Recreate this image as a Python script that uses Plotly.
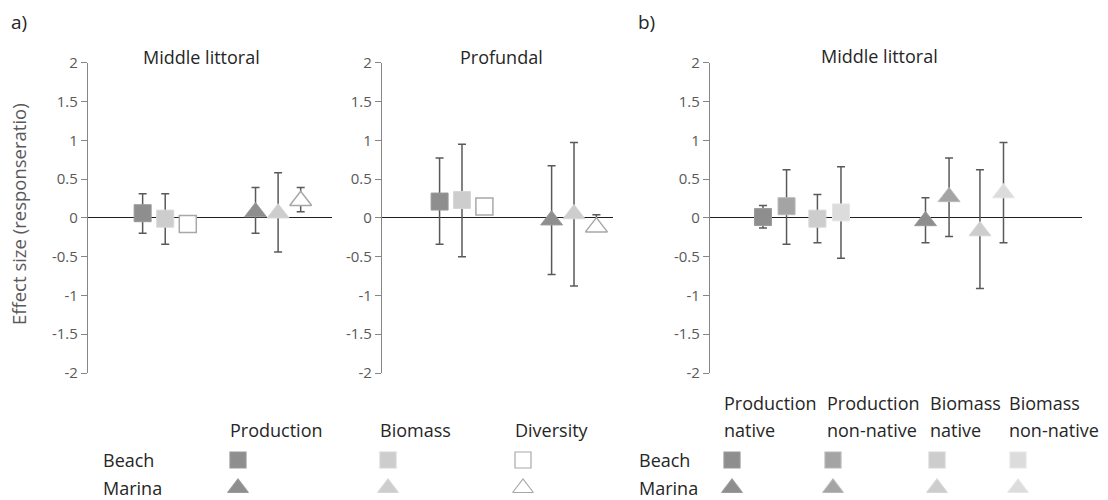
import plotly.graph_objects as go

W, H = 1108, 500

# ---------------- data ----------------
groups = ["Beach", "Marina"]
group_pos = [1, 2]
ytick_vals = [-2, -1.5, -1, -0.5, 0, 0.5, 1, 1.5, 2]
ytick_text = ["-2", "-1.5", "-1", "-0.5", "0", "0.5", "1", "1.5", "2"]

# a) Middle littoral
a_ml_production = [0.06, 0.075]
a_ml_production_hi = [0.31, 0.39]
a_ml_production_lo = [-0.20, -0.20]
a_ml_biomass = [-0.01, 0.06]
a_ml_biomass_hi = [0.31, 0.58]
a_ml_biomass_lo = [-0.34, -0.44]
a_ml_diversity = [-0.08, 0.22]
a_ml_diversity_hi = [-0.08, 0.39]
a_ml_diversity_lo = [-0.08, 0.08]

# a) Profundal
a_pr_production = [0.21, -0.03]
a_pr_production_hi = [0.77, 0.67]
a_pr_production_lo = [-0.34, -0.73]
a_pr_biomass = [0.23, 0.05]
a_pr_biomass_hi = [0.95, 0.97]
a_pr_biomass_lo = [-0.50, -0.88]
a_pr_diversity = [0.145, -0.12]
a_pr_diversity_hi = [0.145, 0.04]
a_pr_diversity_lo = [0.145, -0.12]

# b) Middle littoral
b_prod_native = [0.01, -0.04]
b_prod_native_hi = [0.16, 0.26]
b_prod_native_lo = [-0.13, -0.32]
b_prod_nonnative = [0.15, 0.27]
b_prod_nonnative_hi = [0.62, 0.77]
b_prod_nonnative_lo = [-0.34, -0.24]
b_bio_native = [-0.01, -0.17]
b_bio_native_hi = [0.30, 0.62]
b_bio_native_lo = [-0.32, -0.91]
b_bio_nonnative = [0.07, 0.32]
b_bio_nonnative_hi = [0.66, 0.97]
b_bio_nonnative_lo = [-0.52, -0.32]

a_series = ["Production", "Biomass", "Diversity"]
b_series_l1 = ["Production", "Production", "Biomass", "Biomass"]
b_series_l2 = ["native", "non-native", "native", "non-native"]

# ---------------- styles ----------------
FONT = "Open Sans"
DARK = "#8e8e8e"
LIGHT = "#cdcdcd"
DARK_CHK = "#a4a4a4"
LIGHT_CHK = "#dcdcdc"
OPEN_LINE = "#a8a8a8"
ERR = "#595959"
AXIS = "#868686"
TICK = "#595959"
TXT = "#262626"

SYMBOLS = ["square", "triangle-up"]
SIZES = [17, 19]

def px_x(p):
    return p / W

def px_y(p):
    return 1 - p / H

fig = go.Figure()

# base axis -> overlay axis that carries the markers (drawn above the error bars)
OVER = {"": "5", "2": "6", "3": "7"}

def add_series(ax, offset, val, hi, lo, fill, line, lw=1):
    xs = [g + offset for g in group_pos]
    plus = [h - v for h, v in zip(hi, val)]
    minus = [v - l for v, l in zip(val, lo)]
    fig.add_trace(go.Scatter(
        x=xs, y=val, mode="markers", xaxis="x" + ax, yaxis="y" + ax,
        marker=dict(size=1, color="rgba(0,0,0,0)"),
        error_y=dict(type="data", symmetric=False, array=plus, arrayminus=minus,
                     color=ERR, thickness=1.5, width=4),
        showlegend=False, hoverinfo="skip"))
    o = OVER[ax]
    fig.add_trace(go.Scatter(
        x=xs, y=val, mode="markers", xaxis="x" + o, yaxis="y" + o,
        marker=dict(symbol=SYMBOLS, size=SIZES, color=fill, opacity=1,
                    line=dict(color=line, width=lw)),
        showlegend=False, hoverinfo="y"))

# panel a - middle littoral
a_off = [-0.2, 0.0, 0.2]
add_series("", a_off[0], a_ml_production, a_ml_production_hi, a_ml_production_lo, DARK, "#9a9a9a")
add_series("", a_off[1], a_ml_biomass, a_ml_biomass_hi, a_ml_biomass_lo, LIGHT, "#d6d6d6")
add_series("", a_off[2], a_ml_diversity, a_ml_diversity_hi, a_ml_diversity_lo, "white", OPEN_LINE, 1.5)
# panel a - profundal
add_series("2", a_off[0], a_pr_production, a_pr_production_hi, a_pr_production_lo, DARK, "#9a9a9a")
add_series("2", a_off[1], a_pr_biomass, a_pr_biomass_hi, a_pr_biomass_lo, LIGHT, "#d6d6d6")
add_series("2", a_off[2], a_pr_diversity, a_pr_diversity_hi, a_pr_diversity_lo, "white", OPEN_LINE, 1.5)
# panel b
b_off = [-0.24, -0.095, 0.095, 0.24]
add_series("3", b_off[0], b_prod_native, b_prod_native_hi, b_prod_native_lo, DARK, "#9a9a9a")
add_series("3", b_off[1], b_prod_nonnative, b_prod_nonnative_hi, b_prod_nonnative_lo, DARK_CHK, "#b8b8b8")
add_series("3", b_off[2], b_bio_native, b_bio_native_hi, b_bio_native_lo, LIGHT, "#d6d6d6")
add_series("3", b_off[3], b_bio_nonnative, b_bio_nonnative_hi, b_bio_nonnative_lo, LIGHT_CHK, "#e6e6e6")

# ---------------- legend glyphs (pixel-positioned layout axis) ----------------
leg_a_cols = [238, 388, 523]
leg_b_cols = [732, 833, 937, 1018]
leg_rows = [460, 488]
leg_a_fill = [DARK, LIGHT, "white"]
leg_a_line = ["#9a9a9a", "#d6d6d6", OPEN_LINE]
leg_b_fill = [DARK, DARK_CHK, LIGHT, LIGHT_CHK]
leg_b_line = ["#9a9a9a", "#b8b8b8", "#d6d6d6", "#e6e6e6"]
for cx, f, l in zip(leg_a_cols + leg_b_cols, leg_a_fill + leg_b_fill, leg_a_line + leg_b_line):
    fig.add_trace(go.Scatter(x=[cx, cx], y=leg_rows, mode="markers", xaxis="x4", yaxis="y4",
                             marker=dict(symbol=SYMBOLS, size=[16, 18], color=f, opacity=1,
                                         line=dict(color=l, width=1.2)),
                             showlegend=False, hoverinfo="skip"))

ydom = [px_y(373), px_y(62.7)]

def yax(anchor):
    return dict(domain=ydom, range=[-2, 2], anchor=anchor, tickvals=ytick_vals, ticktext=ytick_text,
                showline=True, linecolor=AXIS, linewidth=1.3, ticks="outside", ticklen=6,
                tickcolor=AXIS, tickwidth=1.3, tickfont=dict(family=FONT, size=15, color=TICK),
                showgrid=False, zeroline=True, zerolinecolor="#1f1f1f", zerolinewidth=1.3,
                fixedrange=True, automargin=False)

def xax(dom, rng, anchor):
    return dict(domain=[px_x(dom[0]), px_x(dom[1])], range=rng, anchor=anchor, visible=False,
                showgrid=False, zeroline=False, fixedrange=True, automargin=False)

def xover(base, rng, anchor):
    return dict(overlaying=base, range=rng, anchor=anchor, visible=False,
                showgrid=False, zeroline=False, fixedrange=True)

def yover(base, anchor):
    return dict(overlaying=base, range=[-2, 2], anchor=anchor, visible=False,
                showgrid=False, zeroline=False, fixedrange=True)

rng1, rng2, rng3 = [0.316, 2.473], [0.286, 2.348], [0.434, 2.723]

fig.update_layout(
    width=W, height=H, autosize=False,
    margin=dict(l=0, r=0, t=0, b=0, pad=0, autoexpand=False),
    paper_bgcolor="white", plot_bgcolor="rgba(0,0,0,0)",
    font=dict(family=FONT, color=TXT),
    showlegend=False,
    xaxis=xax([88, 331.5], rng1, "y"),
    yaxis=yax("x"),
    xaxis2=xax([382, 613], rng2, "y2"),
    yaxis2=yax("x2"),
    xaxis3=xax([710, 1082], rng3, "y3"),
    yaxis3=yax("x3"),
    xaxis4=dict(domain=[0, 1], range=[0, W], anchor="y4", visible=False, fixedrange=True),
    yaxis4=dict(domain=[0, 1], range=[H, 0], anchor="x4", visible=False, fixedrange=True),
    xaxis5=xover("x", rng1, "y5"), yaxis5=yover("y", "x5"),
    xaxis6=xover("x2", rng2, "y6"), yaxis6=yover("y2", "x6"),
    xaxis7=xover("x3", rng3, "y7"), yaxis7=yover("y3", "x7"),
)

ann = []
def text(x, y, s, size=18, xanchor="left", color=TXT, **kw):
    ann.append(dict(x=px_x(x), y=px_y(y), xref="paper", yref="paper", text=s, showarrow=False,
                    xanchor=xanchor, yanchor="middle", font=dict(family=FONT, size=size, color=color), **kw))

text(9, 22, "a)", 19)
text(636, 22, "b)", 19)
text(201, 57, "Middle littoral", 18, "center")
text(501, 57, "Profundal", 18, "center")
text(879, 56, "Middle littoral", 18, "center")
ann.append(dict(x=px_x(19), y=px_y(214), xref="paper", yref="paper", text="Effect size (responseratio)",
                showarrow=False, textangle=-90, xanchor="center", yanchor="middle",
                font=dict(family=FONT, size=18.5, color=TICK)))

leg_a_text_x = [228, 378, 513]
for tx, s in zip(leg_a_text_x, a_series):
    text(tx, 430, s)
for g, ry in zip(groups, leg_rows):
    text(101, ry, g)
    text(637, ry, g)
leg_b_text_x = [722, 825, 928, 1007]
for tx, s1, s2 in zip(leg_b_text_x, b_series_l1, b_series_l2):
    text(tx, 403, s1)
    text(tx, 430, s2)

fig.update_layout(annotations=ann)
fig.write_html("out.html", config={"displayModeBar": False},
               post_script="document.body.style.margin='0';document.body.style.overflow='hidden';")
